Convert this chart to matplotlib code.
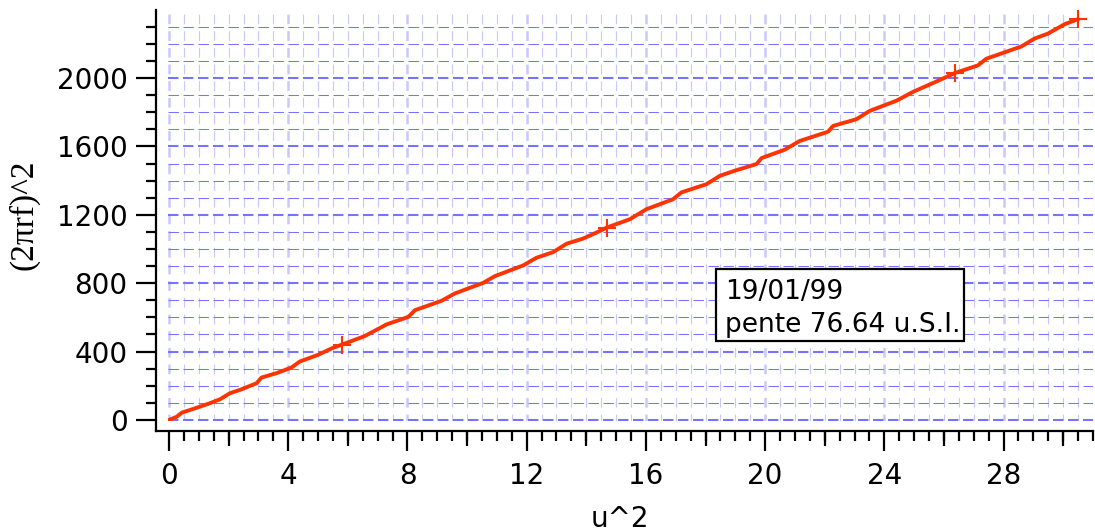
import matplotlib
matplotlib.use('Agg')
import matplotlib.pyplot as plt
from matplotlib.ticker import MultipleLocator
from matplotlib.markers import TICKDOWN
from matplotlib.patches import Rectangle
from matplotlib.transforms import ScaledTranslation

# data
u2 = [0.00, 0.26, 0.43, 0.82, 1.37, 1.71, 2.05, 2.38, 2.94, 3.10, 3.61, 4.11,
      4.39, 5.00, 5.46, 5.79, 6.57, 7.30, 8.03, 8.25, 9.14, 9.59, 10.20, 10.54,
      10.93, 11.88, 12.33, 12.89, 13.34, 13.89, 14.34, 14.68, 15.46, 16.02,
      16.91, 17.19, 18.03, 18.48, 18.98, 19.71, 19.88, 20.66, 21.16, 22.11,
      22.28, 23.06, 23.51, 24.40, 24.96, 25.75, 26.36, 27.14, 27.42, 28.60,
      29.04, 29.49, 30.05, 30.49]
w2 = [0, 19, 43, 65, 98, 121, 157, 176, 215, 248, 274, 307,
      342, 381, 419, 440, 491, 559, 603, 642, 697, 740, 780, 802,
      841, 904, 949, 982, 1031, 1061, 1096, 1125, 1174, 1233,
      1291, 1331, 1379, 1428, 1458, 1497, 1532, 1581, 1632, 1686,
      1720, 1759, 1808, 1867, 1919, 1980, 2029, 2074, 2113, 2185,
      2231, 2260, 2315, 2344]
marker_u2 = [5.79, 14.68, 26.36, 30.49]
marker_w2 = [440, 1125, 2029, 2344]

date_text = "19/01/99"
slope_text = "pente 76.64 u.S.I."

RED = '#ff3300'
plt.rcParams['lines.scale_dashes'] = False
plt.rcParams['font.family'] = ['DejaVu Sans']

W, H = 1095, 531
fig = plt.figure(figsize=(W / 100, H / 100), dpi=100)
ax = fig.add_axes([168 / W, 1 - 421 / H, (1093 - 168) / W, (421 - 10) / H])
ax.set_xlim(-0.034, 31.0)
ax.set_ylim(-6, 2398)

# spines, Igor style: only left/bottom, pushed outward
for s in ['top', 'right']:
    ax.spines[s].set_visible(False)
ax.spines['left'].set_position(('outward', 8.3))
ax.spines['bottom'].set_position(('outward', 7.2))
ax.spines['left'].set_linewidth(1.6)
ax.spines['bottom'].set_linewidth(1.6)
ax.spines['left'].set_bounds(-65, 2398)
ax.spines['bottom'].set_bounds(-0.43, 31.0)

ax.xaxis.set_major_locator(MultipleLocator(4))
ax.xaxis.set_minor_locator(MultipleLocator(0.5))
ax.yaxis.set_major_locator(MultipleLocator(400))
ax.yaxis.set_minor_locator(MultipleLocator(100))
ax.tick_params(which='major', direction='out', length=14.4, width=1.6,
               labelsize=20, colors='black')
ax.tick_params(axis='x', which='major', pad=8)
ax.tick_params(axis='y', which='major', pad=6.5)
ax.tick_params(which='minor', direction='out', length=7.2, width=1.6)

# medium ticks every 2 on x
trans = ax.get_xaxis_transform() + ScaledTranslation(0, -0.10, fig.dpi_scale_trans)
mids = [v for v in range(2, 31, 4)]
ax.plot(mids, [0] * len(mids), transform=trans, ls='none', marker=TICKDOWN,
        ms=10.8, mew=1.6, color='black', clip_on=False)

# grid
ax.set_axisbelow(True)
ax.grid(which='minor', axis='y', color='#7474ff', lw=0.75, ls=(0, (7.5, 3.3)))
ax.grid(which='major', axis='y', color='#7474ff', lw=1.5, ls=(0, (7.5, 3.3)))
ax.grid(which='minor', axis='x', color='#c8c8ff', lw=0.8, ls=(2, (7, 5)))
ax.grid(which='major', axis='x', color='#c8c8ff', lw=1.8, ls=(2, (7, 5)))

ax.plot(u2, w2, color=RED, lw=2.8, solid_joinstyle='round', zorder=3)
ax.plot(marker_u2, marker_w2, ls='none', marker='+', ms=13, mew=1.5,
        color=RED, zorder=4, clip_on=False)

# axis titles
fig.text(620 / W, 1 - 519 / H, 'u^2', fontsize=20, ha='center', va='center')
fig.text(24 / W, 1 - 215 / H, '(2\u03c0rf)^2', fontsize=24, rotation=90,
         ha='center', va='center', family=['Liberation Serif', 'DejaVu Sans'])

# annotation box
box = Rectangle((716 / W, 1 - 341 / H), (964 - 716) / W, (341 - 269) / H,
                transform=fig.transFigure, facecolor='white', edgecolor='black',
                lw=1.6, zorder=5)
fig.patches.append(box)
fig.text(725 / W, 1 - 299 / H, date_text, fontsize=19, va='baseline', zorder=6)
fig.text(725 / W, 1 - 332 / H, slope_text, fontsize=19, va='baseline', zorder=6)

fig.savefig('out.png', dpi=100, facecolor='white')
